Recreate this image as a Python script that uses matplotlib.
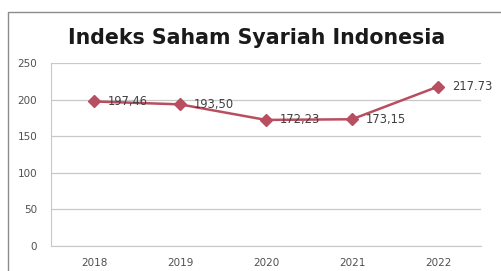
import matplotlib
matplotlib.use("Agg")
import matplotlib.pyplot as plt
from matplotlib.patches import Rectangle

years = ["2018", "2019", "2020", "2021", "2022"]
values = [197.46, 193.50, 172.23, 173.15, 217.73]
labels = ["197,46", "193,50", "172,23", "173,15", "217.73"]
yticks = [0, 50, 100, 150, 200, 250]

W, H = 502, 271
fig = plt.figure(figsize=(W / 100, H / 100), dpi=100)
fig.patch.set_facecolor("white")

# outer chart border
fig.patches.append(Rectangle((8 / W, -0.1), 1.2, (H - 12) / H + 0.1,
                             transform=fig.transFigure, fill=False,
                             edgecolor="#8c8c8c", linewidth=1.0))

ax = fig.add_axes([51 / W, 1 - 246 / H, (481 - 51) / W, (246 - 63) / H])
x = list(range(len(years)))
color = "#B84E60"
ax.plot(x, values, color=color, linewidth=1.8, marker="D", markersize=6,
        markerfacecolor=color, markeredgecolor=color, zorder=3)
for xi, v, lab in zip(x, values, labels):
    ax.annotate(lab, (xi, v), xytext=(10, 0), textcoords="offset points",
                ha="left", va="center", fontsize=8.3, color="#404040")

ax.set_xlim(-0.5, len(years) - 0.5)
ax.set_ylim(0, 250)
ax.set_yticks(yticks)
ax.set_yticklabels([str(t) for t in yticks])
ax.set_xticks(x)
ax.set_xticklabels(years)
ax.tick_params(axis="both", length=0, labelsize=7.5, labelcolor="#505050")
ax.tick_params(axis="y", pad=10)
ax.tick_params(axis="x", pad=9)
ax.grid(axis="y", color="#c8c8c8", linewidth=0.9)
ax.set_axisbelow(True)
for s in ["top", "right"]:
    ax.spines[s].set_visible(False)
ax.spines["left"].set_color("#c8c8c8")
ax.spines["bottom"].set_color("#c8c8c8")

fig.text(257 / W, 1 - 38 / H, "Indeks Saham Syariah Indonesia", ha="center",
         va="center", fontsize=14.8, fontweight="bold", color="#1a1a1a")

fig.savefig("out.png", dpi=100)
